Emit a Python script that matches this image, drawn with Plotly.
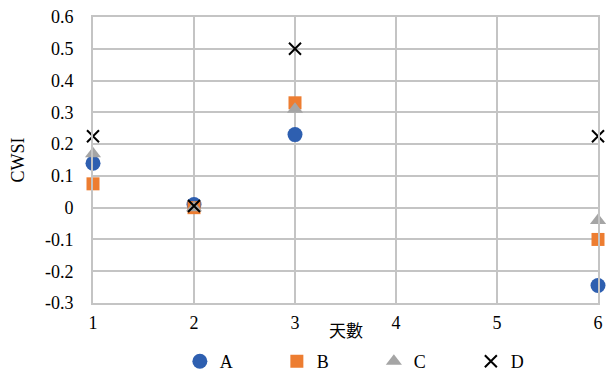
import plotly.graph_objects as go

days = [1, 2, 3, 6]
series_a = [0.14, 0.01, 0.23, -0.245]
series_b = [0.075, 0.0, 0.33, -0.10]
series_c = [0.17, 0.0, 0.31, -0.04]
series_d = [0.225, 0.005, 0.50, 0.225]

x_ticks = [1, 2, 3, 4, 5, 6]
y_ticks = [-0.3, -0.2, -0.1, 0, 0.1, 0.2, 0.3, 0.4, 0.5, 0.6]
y_tick_text = ["-0.3", "-0.2", "-0.1", "0", "0.1", "0.2", "0.3", "0.4", "0.5", "0.6"]

serif = "Liberation Serif"
grid = "#c4c4c4"
text_font = dict(family=serif, size=18, color="#000000")

fig = go.Figure()
fig.add_trace(go.Scatter(x=days, y=series_a, mode="markers", name="A", cliponaxis=False,
                         marker=dict(symbol="circle", size=15, color="#2e5fb0")))
fig.add_trace(go.Scatter(x=days, y=series_b, mode="markers", name="B", cliponaxis=False,
                         marker=dict(symbol="square", size=13, color="#ed7d31")))
fig.add_trace(go.Scatter(x=days, y=series_c, mode="markers", name="C", cliponaxis=False,
                         marker=dict(symbol="triangle-up", size=14, color="#a5a5a5")))
fig.add_trace(go.Scatter(x=days, y=series_d, mode="markers", name="D", cliponaxis=False,
                         marker=dict(symbol="x-thin", size=12, color="#000000",
                                     line=dict(width=2, color="#000000"))))

fig.update_layout(
    width=606, height=372,
    margin=dict(l=93, r=8, t=17, b=69, autoexpand=False),
    paper_bgcolor="white", plot_bgcolor="white",
    font=text_font,
    showlegend=True,
    legend=dict(orientation="h", x=0.172, xanchor="left", y=-0.14, yanchor="top",
                font=text_font, entrywidth=52, entrywidthmode="pixels",
                tracegroupgap=0, traceorder="normal", bgcolor="rgba(0,0,0,0)"),
    annotations=[dict(text="天數", xref="paper", yref="paper", x=0.5, y=-0.094,
                      xanchor="center", yanchor="middle", showarrow=False,
                      font=dict(family="Noto Sans CJK TC", size=17, color="#000000"))],
)
fig.update_xaxes(
    range=[1, 6], tickvals=x_ticks, ticktext=[str(v) for v in x_ticks],
    tickfont=text_font,
    showgrid=True, gridcolor=grid, gridwidth=2,
    showline=True, linecolor=grid, linewidth=2, mirror=True,
    zeroline=False, ticks="", ticklabelstandoff=2,
)
fig.update_yaxes(
    range=[-0.3, 0.6], tickvals=y_ticks, ticktext=y_tick_text,
    tickfont=text_font,
    showgrid=True, gridcolor=grid, gridwidth=2,
    showline=True, linecolor=grid, linewidth=2, mirror=True,
    zeroline=False, ticks="", ticklabelstandoff=14,
    title=dict(text="CWSI", font=text_font, standoff=16),
)

fig.write_html("out.html")
